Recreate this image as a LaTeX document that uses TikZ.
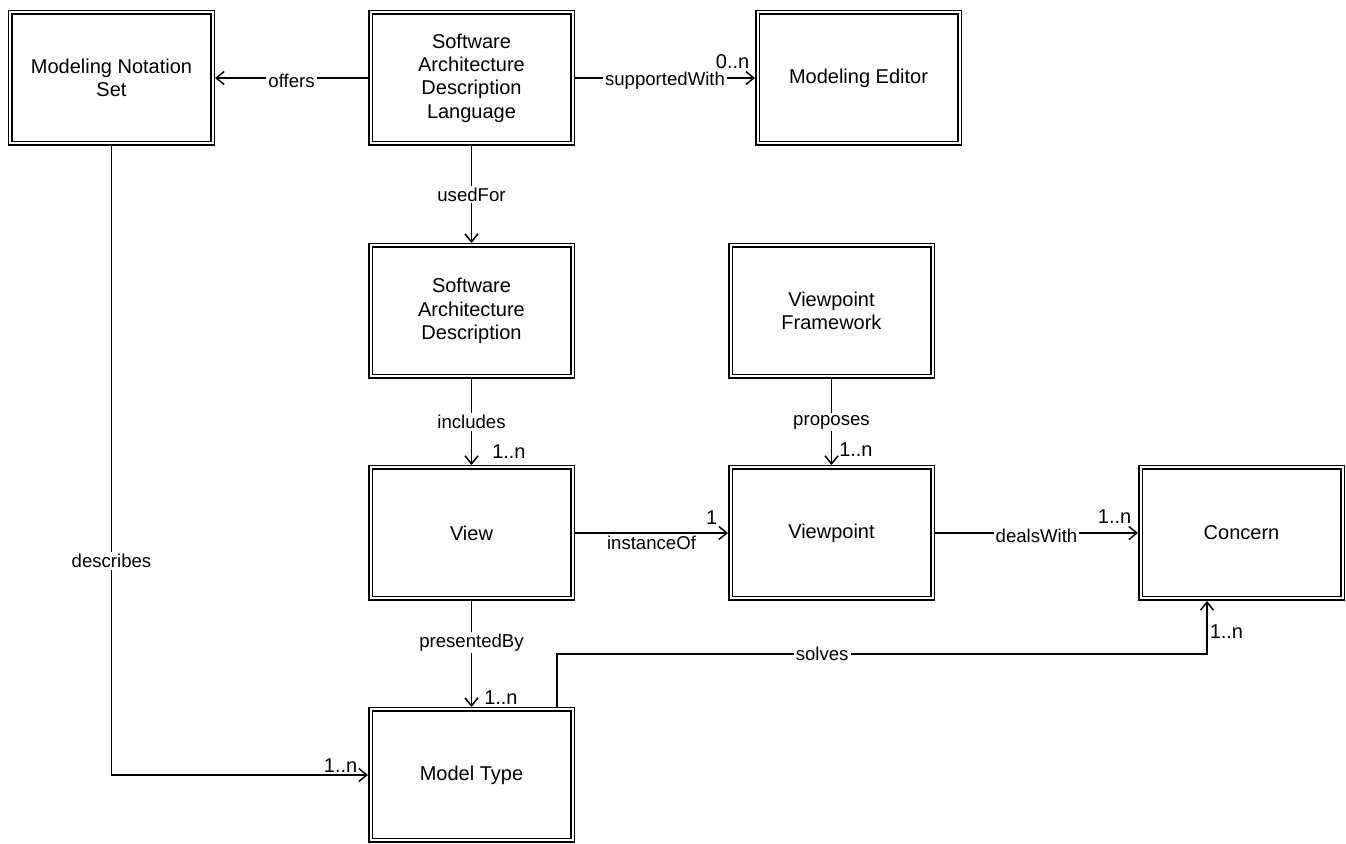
\documentclass[tikz,border=0pt]{standalone}
\usepackage{fontspec}
\setmainfont{Liberation Sans}
\usetikzlibrary{positioning}
\usetikzlibrary{arrows.meta}

\begin{document}
\begin{tikzpicture}[
            entity/.style={draw=black, double, double distance=1pt, line width=0.75pt, minimum width=101pt, minimum height=65.5pt, align=center, inner sep=2pt, outer sep=1.25pt, font=\fontsize{10}{11.7}\selectfont},
            rel/.style={draw, line width=0.75pt, -{Straight Barb[length=4pt,width=6.5pt]}},
            lbl/.style={fill=white, inner sep=1pt, font=\fontsize{9.3}{11}\selectfont},
            mult/.style={inner sep=1pt, font=\fontsize{10}{12}\selectfont},
            node distance=76.5pt
        ]
            \node[entity] (notation) {Modeling Notation\\Set};
            \node[entity, right=of notation] (sadl) {Software\\Architecture\\Description\\Language};
            \node[entity, right=90pt of sadl] (editor) {Modeling Editor};
            \node[entity, below=48.5pt of sadl] (sad) {Software\\Architecture\\Description};
            \node[entity, right=of sad] (framework) {Viewpoint\\Framework};
            \node[entity, below=43pt of sad] (view) {View};
            \node[entity, right=of view] (viewpoint) {Viewpoint};
            \node[entity, right=101.5pt of viewpoint] (concern) {Concern};
            \node[entity, below=53pt of view] (modeltype) {Model Type};
            \useasboundingbox ([shift={(-55.75pt,39pt)}]notation.center) rectangle ++(673pt,-422pt);
            \path[rel] (sadl) -- node[lbl, yshift=-1.5pt] {offers} (notation);
            \path[rel] (sadl) -- node[lbl, yshift=-1.5pt] {supportedWith} node[mult, pos=1, anchor=south east, xshift=-1.5pt, yshift=3.5pt] {0..n} (editor);
            \path[rel] (sadl) -- node[lbl] {usedFor} (sad);
            \path[rel] (sad) -- node[lbl] {includes} node[mult, pos=1, anchor=south west, xshift=9pt, yshift=2pt] {1..n} (view);
            \path[rel] (framework) -- node[lbl] {proposes} node[mult, pos=1, anchor=south west, xshift=2.5pt, yshift=3pt] {1..n} (viewpoint);
            \path[rel] (view) -- node[lbl, yshift=-5pt] {instanceOf} node[mult, pos=1, anchor=south east, xshift=-4pt, yshift=3pt] {1} (viewpoint);
            \path[rel] (viewpoint) -- node[lbl, yshift=-1.5pt] {dealsWith} node[mult, pos=1, anchor=south east, xshift=-2pt, yshift=3.5pt] {1..n} (concern);
            \path[rel] (view) -- node[lbl, pos=0.39] {presentedBy} node[mult, pos=1, anchor=south west, xshift=5pt] {1..n} (modeltype);
            \path[rel] (notation) |- node[lbl, pos=0.33] {describes} node[mult, pos=1, anchor=south east, xshift=-4pt] {1..n} (modeltype);
            \path[rel] ([xshift=-9pt]modeltype.north east) -- ++(0,26.5pt) -| node[lbl, pos=0.204] {solves} node[mult, pos=0.71, anchor=west] {1..n} ([xshift=-17.25pt]concern.south);
        \end{tikzpicture}
\end{document}
